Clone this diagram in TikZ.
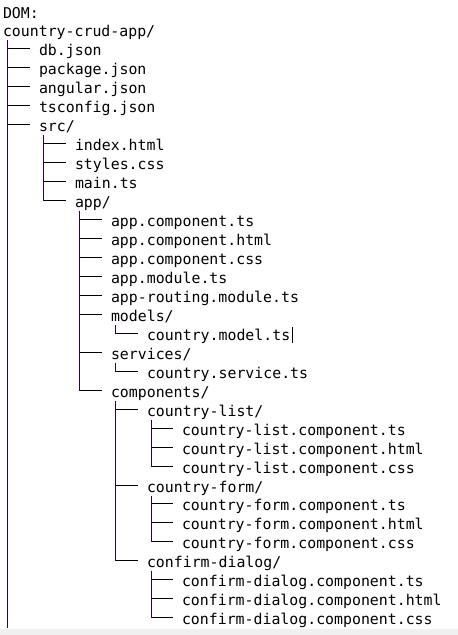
\documentclass[tikz,border=0pt]{standalone}
\usepackage{fontspec}
\newfontfamily\treefont{DejaVu Sans Mono}
\usetikzlibrary{calc}
\definecolor{vcol}{RGB}{48,0,64}
\definecolor{barcol}{RGB}{240,240,240}
\tikzset{
  item/.style={anchor=base west, inner sep=0pt, outer sep=0pt, font=\treefont\fontsize{14.87pt}{19pt}\selectfont, text=black},
  hline/.style={draw=black, line width=1.05pt},
  vline/.style={draw=vcol, line width=1.1pt},
}
\newcommand{\rowy}[1]{-round(17.5+18.96*#1)}
\newcommand{\lvx}[1]{round(3.3+35.8*#1)}
\newcommand{\itm}[4]{\node[item] (#1) at ({\lvx{#2}},{\rowy{#3}}) {#4};}
\newcommand{\branch}[2]{%
  \path ($(#1.base west)+(4.5pt,0)$) coordinate (v#1);
  \path ($(#2.base west)+(-9.5pt,6.5pt)$) coordinate (h#2);
  \draw[hline] (v#1 |- h#2) -- (h#2);
}
\newcommand{\trunk}[2]{\draw[vline] ($(v#1)+(0,-3.5pt)$) -- ($(v#1 |- h#2)+(0,-0.5pt)$);}
\begin{document}
\begin{tikzpicture}[x=1pt,y=1pt]
\useasboundingbox (0,0) rectangle (458,-635);
\fill[barcol] (0,-629) rectangle (458,-635);
\itm{r0}{0}{0}{DOM:}
\itm{r1}{0}{1}{country-crud-app/}
\itm{r2}{1}{2}{db.json}
\itm{r3}{1}{3}{package.json}
\itm{r4}{1}{4}{angular.json}
\itm{r5}{1}{5}{tsconfig.json}
\itm{r6}{1}{6}{src/}
\itm{r7}{2}{7}{index.html}
\itm{r8}{2}{8}{styles.css}
\itm{r9}{2}{9}{main.ts}
\itm{r10}{2}{10}{app/}
\itm{r11}{3}{11}{app.component.ts}
\itm{r12}{3}{12}{app.component.html}
\itm{r13}{3}{13}{app.component.css}
\itm{r14}{3}{14}{app.module.ts}
\itm{r15}{3}{15}{app-routing.module.ts}
\itm{r16}{3}{16}{models/}
\itm{r17}{4}{17}{country.model.ts}
\itm{r18}{3}{18}{services/}
\itm{r19}{4}{19}{country.service.ts}
\itm{r20}{3}{20}{components/}
\itm{r21}{4}{21}{country-list/}
\itm{r22}{5}{22}{country-list.component.ts}
\itm{r23}{5}{23}{country-list.component.html}
\itm{r24}{5}{24}{country-list.component.css}
\itm{r25}{4}{25}{country-form/}
\itm{r26}{5}{26}{country-form.component.ts}
\itm{r27}{5}{27}{country-form.component.html}
\itm{r28}{5}{28}{country-form.component.css}
\itm{r29}{4}{29}{confirm-dialog/}
\itm{r30}{5}{30}{confirm-dialog.component.ts}
\itm{r31}{5}{31}{confirm-dialog.component.html}
\itm{r32}{5}{32}{confirm-dialog.component.css}
% root
\foreach \c in {r2,r3,r4,r5,r6}{\branch{r1}{\c}}
\coordinate (rootend) at (0,-628);
\draw[vline] ($(vr1)+(0,-3.5pt)$) -- (vr1 |- rootend);
% src
\foreach \c in {r7,r8,r9,r10}{\branch{r6}{\c}}
\trunk{r6}{r10}
% app
\foreach \c in {r11,r12,r13,r14,r15,r16,r18,r20}{\branch{r10}{\c}}
\trunk{r10}{r20}
\branch{r16}{r17}\trunk{r16}{r17}
\branch{r18}{r19}\trunk{r18}{r19}
\foreach \c in {r21,r25,r29}{\branch{r20}{\c}}
\trunk{r20}{r29}
\foreach \c in {r22,r23,r24}{\branch{r21}{\c}}
\trunk{r21}{r24}
\foreach \c in {r26,r27,r28}{\branch{r25}{\c}}
\trunk{r25}{r28}
\foreach \c in {r30,r31,r32}{\branch{r29}{\c}}
\trunk{r29}{r32}
% caret
\coordinate (caret) at ($(r17.base east)+(2.5pt,0)$);
\draw[black, line width=0.9pt] ($(caret)+(0,-2.5pt)$) -- ($(caret)+(0,13pt)$);
\end{tikzpicture}
\end{document}
